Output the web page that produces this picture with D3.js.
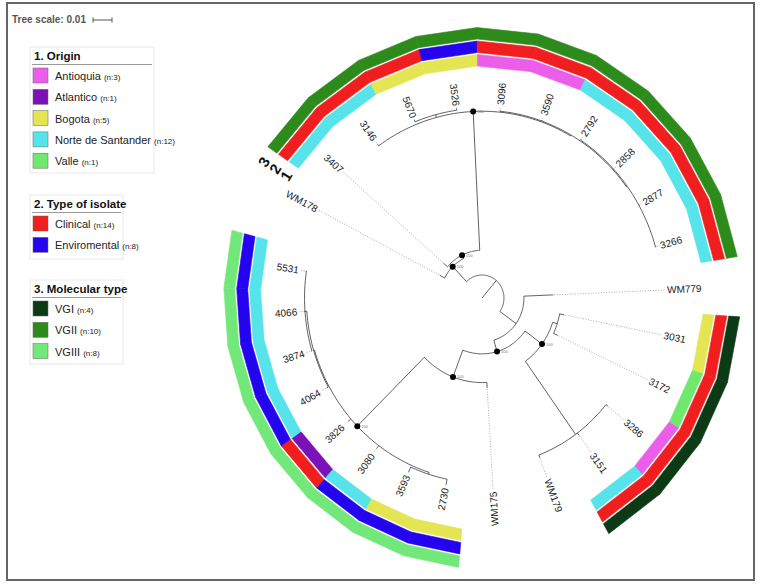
<!DOCTYPE html>
<html><head><meta charset="utf-8">
<script src="https://cdn.jsdelivr.net/npm/d3@7"></script>
<style>body{margin:0;background:#fff}svg{display:block}</style>
</head><body><svg id="c" width="760" height="584"></svg>
<script>
// ---------------- DATA ----------------
const treeNewick = "(((WM178:0.003,(3407:0.003,(3146:0.001,(5670:0.001,3526:0.001):0.0015,(3096:0.0005,3590:0.0005,(2792:0.0005,2858:0.0005,2877:0.0005,3266:0.0005):0.0005):0.0005)100:0.0732)100:0.002)100:0.011,(WM779:0.0162,(((3031:0.0026,3172:0.0026):0.0026,(3286:0.0016,3151:0.0016,WM179:0.0016):0.0474)100:0.0116,(WM175:0.003,((2730:0.003,3593:0.003):0.001,3080:0.002,3826:0.002,(4064:0.001,(3874:0.0005,4066:0.0005,5531:0.0005):0.001):0.0005)100:0.0518)100:0.0151)100:0.0063):0.011):0.0121;";
const leafNames = ["WM178","3407","3146","5670","3526","3096","3590","2792","2858","2877","3266","WM779","3031","3172","3286","3151","WM179","WM175","2730","3593","3080","3826","4064","3874","4066","5531"];
const originOf = [null,"Norte de Santander","Norte de Santander","Bogota","Bogota","Antioquia","Antioquia","Norte de Santander","Norte de Santander","Norte de Santander","Norte de Santander",null,"Bogota","Valle","Antioquia","Norte de Santander",null,null,"Bogota","Bogota","Norte de Santander","Atlantico","Norte de Santander","Norte de Santander","Norte de Santander","Norte de Santander"];
const typeOf = [null,"Clinical","Clinical","Clinical","Enviromental","Clinical","Clinical","Clinical","Clinical","Clinical","Clinical",null,"Clinical","Clinical","Clinical","Clinical",null,null,"Enviromental","Enviromental","Enviromental","Clinical","Enviromental","Enviromental","Enviromental","Enviromental"];
const molTypeOf = [null,"VGII","VGII","VGII","VGII","VGII","VGII","VGII","VGII","VGII","VGII",null,"VGI","VGI","VGI","VGI",null,null,"VGIII","VGIII","VGIII","VGIII","VGIII","VGIII","VGIII","VGIII"];

const originCats = ["Antioquia","Atlantico","Bogota","Norte de Santander","Valle"];
const originCounts = [3,1,5,12,1];
const originColors = ["#ea5eea","#7a12b8","#e4e552","#56e3ea","#70e86e"];
const typeCats = ["Clinical","Enviromental"];
const typeCounts = [14,8];
const typeColors = ["#f01e1e","#2404ee"];
const molCats = ["VGI","VGII","VGIII"];
const molCounts = [4,10,8];
const molColors = ["#0c3a15","#2d8b1c","#72e87a"];
const ringNames = ["1","2","3"];
const treeScaleValue = 0.01;
const supportValue = "100";

// ---------------- LAYOUT ----------------
const svg = d3.select("#c");
const FONT = "'Liberation Sans', Arial, sans-serif";
const cx = 482, cy = 298, sx = 0.955;
const labelR = 194;
const ringInner = [232, 245.5, 259], ringW = 11.5;

// piecewise angular scale (leaf slot boundaries -> degrees clockwise from north)
const angle = d3.scaleLinear()
  .domain([0.5, 10.5, 11.5, 15.5, 17.5, 25.5])
  .range([-56, 81.2, 94, 150.6, 185.2, 284.5]);
const rad = d3.scaleLinear().domain([0, treeScaleValue]).range([0, 19]);

const toRad = a => a*Math.PI/180;
function polar(r, a){ const t = toRad(a); return [cx + r*sx*Math.sin(t), cy - r*Math.cos(t)]; }
function radialDir(a){ const t = toRad(a); return Math.atan2(-Math.cos(t), sx*Math.sin(t))*180/Math.PI; }
const arcLine = d3.line();
function arcPath(r, a0, a1){
  const n = Math.max(2, Math.ceil(Math.abs(a1-a0)/1.5)+1);
  const pts = d3.range(n).map(k => polar(r, a0 + (a1-a0)*k/(n-1)));
  return arcLine(pts);
}

function parseNewick(s){
  let i = 0;
  function node(){
    const n = {children:[]};
    if (s[i] === '('){
      i++; n.children.push(node());
      while (s[i] === ','){ i++; n.children.push(node()); }
      i++;
    }
    let name = '';
    while (i < s.length && !',():;'.includes(s[i])) name += s[i++];
    n.name = name;
    n.length = 0;
    if (s[i] === ':'){ i++; let l=''; while (i < s.length && !',();'.includes(s[i])) l += s[i++]; n.length = +l; }
    if (!n.children.length) delete n.children;
    return n;
  }
  return node();
}

// frame
svg.append("rect").attr("x",7).attr("y",3).attr("width",747).attr("height",577)
  .attr("fill","none").attr("stroke","#666").attr("stroke-width",2);

// tree scale
svg.append("text").attr("x",12).attr("y",23).attr("font-family",FONT).attr("font-size",10)
  .attr("font-weight","bold").attr("fill","#555").text("Tree scale: " + treeScaleValue);
{
  const x0 = 93, y0 = 20, L = rad(treeScaleValue);
  const g = svg.append("g").attr("stroke","#555").attr("stroke-width",1);
  g.append("line").attr("x1",x0).attr("x2",x0+L).attr("y1",y0).attr("y2",y0);
  g.append("line").attr("x1",x0).attr("x2",x0).attr("y1",y0-2.5).attr("y2",y0+2.5);
  g.append("line").attr("x1",x0+L).attr("x2",x0+L).attr("y1",y0-2.5).attr("y2",y0+2.5);
}

// legends
function legend(x, y, w, h, title, cats, counts, colors){
  const g = svg.append("g");
  g.append("rect").attr("x",x).attr("y",y).attr("width",w).attr("height",h)
    .attr("fill","#fff").attr("stroke","#e4e4e4").attr("stroke-width",0.8);
  g.append("text").attr("x",x+4).attr("y",y+13).attr("font-family",FONT).attr("font-size",11.5)
    .attr("font-weight","bold").attr("fill","#111").text(title);
  g.append("line").attr("x1",x+2).attr("x2",x+w-2).attr("y1",y+17.5).attr("y2",y+17.5)
    .attr("stroke","#9a9a9a").attr("stroke-width",1);
  cats.forEach((c,i)=>{
    const yy = y + 21 + i*21.3;
    g.append("rect").attr("x",x+3).attr("y",yy).attr("width",15).attr("height",15)
      .attr("fill",colors[i]).attr("stroke","#666").attr("stroke-width",0.5);
    const t = g.append("text").attr("x",x+25).attr("y",yy+12).attr("font-family",FONT)
      .attr("font-size",11).attr("fill","#222");
    t.append("tspan").text(c + " ");
    t.append("tspan").attr("font-size",8).text("(n:" + counts[i] + ")");
  });
}
legend(30, 47, 124, 126, "1. Origin", originCats, originCounts, originColors);
legend(30, 195, 93, 64, "2. Type of isolate", typeCats, typeCounts, typeColors);
legend(30, 280, 93, 84, "3. Molecular type", molCats, molCounts, molColors);

// ---------------- TREE ----------------
const root = d3.hierarchy(parseNewick(treeNewick));
root.eachBefore(d => { d.len = (d.parent ? d.parent.len : 0) + d.data.length; });
root.eachAfter(d => {
  if (!d.children) d.ang = angle(leafNames.indexOf(d.data.name));
  else d.ang = (d.children[0].ang + d.children[d.children.length-1].ang)/2;
});

const gTree = svg.append("g").attr("fill","none").attr("stroke","#3a3a3a").attr("stroke-width",0.8);
{
  const p = polar(rad(root.len), root.ang);
  gTree.append("line").attr("x1",cx).attr("y1",cy).attr("x2",p[0]).attr("y2",p[1]);
}
root.descendants().forEach(d => {
  if (d.parent){
    const p0 = polar(rad(d.parent.len), d.ang), p1 = polar(rad(d.len), d.ang);
    gTree.append("line").attr("x1",p0[0]).attr("y1",p0[1]).attr("x2",p1[0]).attr("y2",p1[1]);
  }
  if (d.children){
    const a0 = d.children[0].ang, a1 = d.children[d.children.length-1].ang;
    gTree.append("path").attr("d", arcPath(rad(d.len), a0, a1));
  }
});

// dotted leaf connectors + labels
const leaves = root.leaves();
const gDot = svg.append("g").attr("stroke","#8a8a8a").attr("stroke-width",0.7).attr("stroke-dasharray","1,1.6");
leaves.forEach(d => {
  const p0 = polar(rad(d.len)+1, d.ang), p1 = polar(labelR-2, d.ang);
  gDot.append("line").attr("x1",p0[0]).attr("y1",p0[1]).attr("x2",p1[0]).attr("y2",p1[1]);
});
leaves.forEach(d => {
  const a = d.ang;
  const flip = a < 0 || a > 170;
  const [x,y] = polar(labelR, a);
  const dir = radialDir(a);
  svg.append("text").attr("x",x).attr("y",y).attr("dy","0.35em")
    .attr("font-family",FONT).attr("font-size",10).attr("fill","#1a1a1a")
    .attr("text-anchor", flip ? "end" : "start")
    .attr("transform", `rotate(${flip ? dir+180 : dir},${x},${y})`)
    .text(d.data.name);
});

// support dots
root.descendants().filter(d => d.children && d.data.name === supportValue).forEach(d => {
  const [x,y] = polar(rad(d.len), d.ang);
  svg.append("circle").attr("cx",x).attr("cy",y).attr("r",3).attr("fill","#000");
  svg.append("text").attr("x",x+4).attr("y",y+1.5).attr("font-family",FONT).attr("font-size",4)
    .attr("fill","#777").text(d.data.name);
});

// ---------------- RINGS ----------------
const rings = [
  {vals: originOf, cats: originCats, colors: originColors},
  {vals: typeOf, cats: typeCats, colors: typeColors},
  {vals: molTypeOf, cats: molCats, colors: molColors}
];
const gRing = svg.append("g");
rings.forEach((ring, k) => {
  const color = d3.scaleOrdinal().domain(ring.cats).range(ring.colors);
  const ri = ringInner[k], ro = ri + ringW;
  leafNames.forEach((name, i) => {
    const v = ring.vals[i];
    if (!v) return;
    const a0 = angle(i - 0.5), a1 = angle(i + 0.5);
    const pts = [polar(ri,a0), polar(ri,a1), polar(ro,a1), polar(ro,a0)];
    gRing.append("polygon").attr("points", pts.map(p=>p.join(",")).join(" "))
      .attr("fill", color(v)).attr("stroke", color(v)).attr("stroke-width",0.6);
  });
});
// ring numbers (digit "up" pointing radially outward)
{
  const aStart = angle(0.5);
  ringNames.forEach((t,k) => {
    const a = aStart - 3.2;
    const [x,y] = polar(ringInner[k] + ringW/2 + 1, a);
    svg.append("text").attr("x",x).attr("y",y).attr("dy","0.36em").attr("text-anchor","middle")
      .attr("font-family",FONT).attr("font-size",15).attr("font-weight","bold").attr("fill","#111")
      .attr("transform",`rotate(${radialDir(a)+90},${x},${y})`).text(t);
  });
}
</script></body></html>
